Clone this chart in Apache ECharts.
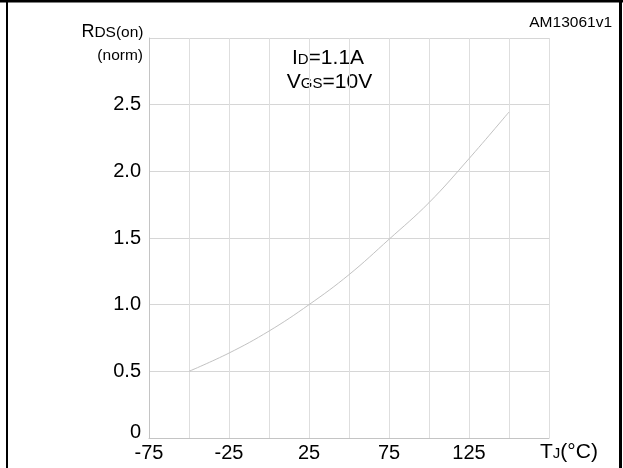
<!DOCTYPE html>
<html>
<head>
<meta charset="utf-8">
<script src="https://cdn.jsdelivr.net/npm/echarts@6/dist/echarts.min.js"></script>
<style>
  html, body { margin: 0; padding: 0; background: #fff; }
  #chart { width: 623px; height: 468px; }
</style>
</head>
<body>
<div id="chart"></div>
<script>
// Normalized on-resistance vs junction temperature
const temperatures = [-50, -25, 0, 25, 50, 75, 100, 125, 150];
const rdsNorm = [0.50, 0.637, 0.802, 1.00, 1.225, 1.49, 1.765, 2.095, 2.445];
const xTickLabels = [-75, -25, 25, 75, 125];
const yTickLabels = [0, 0.5, 1.0, 1.5, 2.0, 2.5];

const FONT = '"Liberation Sans", Arial, Helvetica, sans-serif';
const chart = echarts.init(document.getElementById('chart'), null, { renderer: 'canvas' });

// rich-text styles: full-size letters and baseline-aligned small letters
const big = { fontSize: 21, fontFamily: FONT, color: '#000', verticalAlign: 'bottom', lineHeight: 21 };
const small = { fontSize: 15, fontFamily: FONT, color: '#000', verticalAlign: 'bottom', lineHeight: 15, padding: [0, 0, 1.3, 0] };
const titleBig = { fontSize: 18, fontFamily: FONT, color: '#000', verticalAlign: 'bottom', lineHeight: 18 };
const titleSmall = { fontSize: 15.5, fontFamily: FONT, color: '#000', verticalAlign: 'bottom', lineHeight: 15.5, padding: [0, 0, 0.5, 0] };

chart.setOption({
  animation: false,
  backgroundColor: '#fff',
  grid: { left: 149, top: 38, width: 400, height: 400, containLabel: false },
  xAxis: {
    type: 'value', min: -75, max: 175, interval: 25,
    axisLine: { show: true, onZero: false, lineStyle: { color: '#c4c4c4', width: 1 } },
    axisTick: { show: false },
    splitLine: { show: true, lineStyle: { color: '#dedede', width: 1 } },
    axisLabel: {
      margin: 5, color: '#000', fontSize: 20, fontFamily: FONT,
      formatter: v => xTickLabels.includes(v) ? String(v) : ''
    }
  },
  yAxis: {
    type: 'value', min: 0, max: 3, interval: 0.5,
    axisLine: { show: true, onZero: false, lineStyle: { color: '#c4c4c4', width: 1 } },
    axisTick: { show: false },
    splitLine: { show: true, lineStyle: { color: '#d6d6d6', width: 1 } },
    axisLabel: {
      margin: 8, color: '#000', fontSize: 20, fontFamily: FONT,
      formatter: v => {
        const hit = yTickLabels.find(t => Math.abs(t - v) < 1e-9);
        if (hit === undefined) return '';
        return hit === 0 ? '{z|0}' : hit.toFixed(1);
      },
      rich: { z: { fontSize: 20, fontFamily: FONT, color: '#000', padding: [0, 0, 12, 0] } }
    }
  },
  series: [{
    type: 'line',
    data: temperatures.map((t, i) => [t, rdsNorm[i]]),
    smooth: 0.4,
    symbol: 'none',
    lineStyle: { color: '#c2c2c2', width: 1 }
  }],
  graphic: [
    // outer frame
    { type: 'line', shape: { x1: 7, y1: 0, x2: 7, y2: 468 }, style: { stroke: '#000', lineWidth: 2 } },
    { type: 'line', shape: { x1: 0, y1: 1.25, x2: 623, y2: 1.25 }, style: { stroke: '#000', lineWidth: 2.5 } },
    { type: 'line', shape: { x1: 620.5, y1: 0, x2: 620.5, y2: 468 }, style: { stroke: '#000', lineWidth: 3 } },
    // figure code
    { type: 'text', x: 612, y: 22.5, style: { text: 'AM13061v1', font: '15.5px ' + FONT, fill: '#000', textAlign: 'right', textVerticalAlign: 'middle' } },
    // y axis title
    { type: 'text', x: 143.5, y: 41.5, style: {
        text: '{b|R}{s|DS(on)}', rich: { b: titleBig, s: titleSmall }, textAlign: 'right', textVerticalAlign: 'bottom' } },
    { type: 'text', x: 143, y: 55.5, style: { text: '(norm)', font: '15.5px ' + FONT, fill: '#000', textAlign: 'right', textVerticalAlign: 'middle' } },
    // test conditions
    { type: 'text', x: 328, y: 69, style: {
        text: '{b|I}{s|D}{b|=1.1A}', rich: { b: big, s: small }, textAlign: 'center', textVerticalAlign: 'bottom' } },
    { type: 'text', x: 329.5, y: 93, style: {
        text: '{b|V}{s|GS}{b|=10V}', rich: { b: big, s: small }, textAlign: 'center', textVerticalAlign: 'bottom' } },
    // x axis title
    { type: 'text', x: 540, y: 463, style: {
        text: '{b|T}{s|J}{b|(°C)}', rich: { b: big, s: small }, textAlign: 'left', textVerticalAlign: 'bottom' } }
  ]
});
</script>
</body>
</html>
